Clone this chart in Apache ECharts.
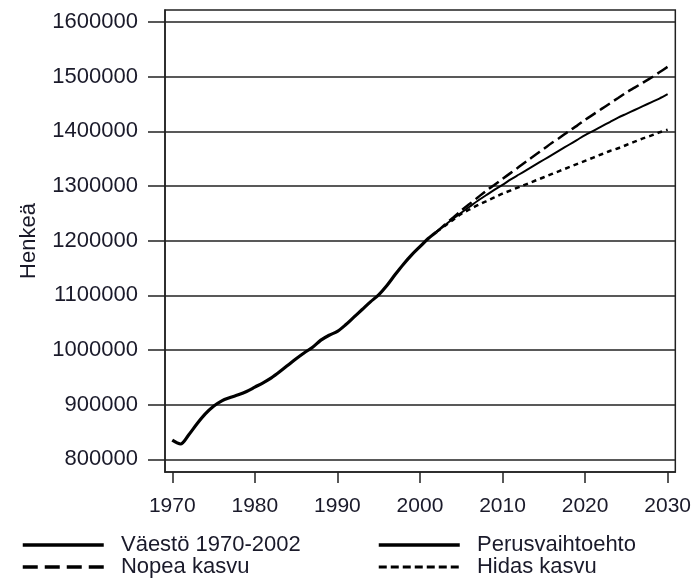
<!DOCTYPE html>
<html><head><meta charset="utf-8">
<script src="https://cdn.jsdelivr.net/npm/echarts@6/dist/echarts.min.js"></script>
<style>html,body{margin:0;padding:0;background:#fff}#c{width:694px;height:580px}</style>
</head><body><div id="c"></div>
<script>
// Historical population 1970-2002
const histYears = [1970,1971,1972,1973,1974,1975,1976,1977,1978,1979,1980,1981,1982,1983,1984,1985,1986,1987,1988,1989,1990,1991,1992,1993,1994,1995,1996,1997,1998,1999,2000,2001,2002];
const histValues = [835000,828000,845000,865000,883000,897000,907000,913000,918000,924000,932000,940000,949000,960000,972000,984000,995000,1005000,1018000,1027000,1034000,1046000,1060000,1074000,1088000,1101000,1118000,1138000,1157000,1174000,1189000,1204000,1216000];

// Projections 2002-2030
const projYears = [2002,2003,2004,2005,2006,2007,2008,2009,2010,2011,2012,2013,2014,2015,2016,2017,2018,2019,2020,2021,2022,2023,2024,2025,2026,2027,2028,2029,2030];
const perusValues = [1216000,1228000,1240000,1251000,1262000,1273000,1283000,1293000,1302000,1312000,1321000,1330000,1339000,1348000,1357000,1366000,1375000,1384000,1393000,1401000,1409000,1417000,1425000,1432000,1439000,1446000,1453000,1460000,1468000];
const nopeaValues = [1216000,1229000,1242000,1255000,1267000,1279000,1291000,1302000,1313000,1324000,1335000,1346000,1357000,1368000,1379000,1389000,1400000,1410000,1421000,1431000,1441000,1451000,1461000,1471000,1480000,1489000,1498000,1508000,1518000];
const hidasValues = [1216000,1227000,1238000,1249000,1257000,1265000,1272000,1279000,1286000,1292000,1298000,1304000,1310000,1316000,1322000,1328000,1334000,1340000,1346000,1352000,1358000,1364000,1369000,1375000,1381000,1387000,1392000,1398000,1403000];

const seriesNames = ['Väestö 1970-2002','Perusvaihtoehto','Nopea kasvu','Hidas kasvu'];
const xTicks = [1970,1980,1990,2000,2010,2020,2030];
const yTicks = [800000,900000,1000000,1100000,1200000,1300000,1400000,1500000,1600000];
const yAxisTitle = 'Henkeä';

function pairs(xs, ys){ return xs.map((x,i)=>[x, ys[i]]); }

const FONT = '"Liberation Sans", Arial, sans-serif';
const TXT = '#1a1a2a';
const chart = echarts.init(document.getElementById('c'), null, {renderer:'canvas'});
const legendText = {fontFamily: FONT, fontSize: 22, color: TXT, lineHeight: 21};
const legendCommon = {top: 534, orient: 'vertical', itemWidth: 81, itemHeight: 14, itemGap: 0, padding: 0,
  height: 46, formatter: n => '  ' + n, textStyle: legendText, selectedMode: false,
  itemStyle: {color: 'transparent', borderWidth: 0, opacity: 0}};
chart.setOption({
  animation: false,
  backgroundColor: '#fff',
  grid: {left: 165, top: 10, right: 17, bottom: 108, show: true, borderColor: '#222', borderWidth: 1.5, backgroundColor: 'transparent'},
  xAxis: {
    type: 'value', min: 1969.12, max: 2030.93,
    axisLine: {show: true, lineStyle: {color: '#222', width: 1.5}},
    axisTick: {show: true, length: 11, inside: false, customValues: xTicks, lineStyle: {color: '#222', width: 1.5}},
    axisLabel: {customValues: xTicks, formatter: v => String(v), fontFamily: FONT, fontSize: 21, color: TXT, margin: 24},
    splitLine: {show: false}
  },
  yAxis: {
    type: 'value', min: 776767, max: 1621953,
    name: yAxisTitle, nameLocation: 'middle', nameRotate: 90, nameGap: 125,
    nameTextStyle: {fontFamily: FONT, fontSize: 22, color: TXT},
    axisLine: {show: true, lineStyle: {color: '#222', width: 1.5}},
    axisTick: {show: true, length: 17, inside: false, customValues: yTicks, lineStyle: {color: '#222', width: 1.5}},
    axisLabel: {customValues: yTicks, formatter: v => String(v), fontFamily: FONT, fontSize: 22, color: TXT, margin: 27},
    splitLine: {show: true, lineStyle: {color: '#222', width: 1.5}}
  },
  legend: [
    Object.assign({left: 21, data: [
       {name: seriesNames[0], lineStyle: {width: 3.5, type: 'solid', color: '#000'}},
       {name: seriesNames[2], lineStyle: {width: 3.5, type: [15,7], color: '#000'}}
     ]}, legendCommon),
    Object.assign({left: 377, data: [
       {name: seriesNames[1], lineStyle: {width: 3.5, type: 'solid', color: '#000'}},
       {name: seriesNames[3], lineStyle: {width: 3, type: [8,4], color: '#000'}}
     ]}, legendCommon)
  ],
  series: [
    {name: seriesNames[0], type: 'line', data: pairs(histYears, histValues), showSymbol: false, symbol: 'none', smooth: 0.3,
     itemStyle: {color: '#000'}, lineStyle: {color: '#000', width: 3.2}, z: 5},
    {name: seriesNames[1], type: 'line', data: pairs(projYears, perusValues), showSymbol: false, symbol: 'none', smooth: 0.3,
     itemStyle: {color: '#000'}, lineStyle: {color: '#000', width: 2}},
    {name: seriesNames[2], type: 'line', data: pairs(projYears, nopeaValues), showSymbol: false, symbol: 'none', smooth: 0.3,
     itemStyle: {color: '#000'}, lineStyle: {color: '#000', width: 2.5, type: [12,5]}},
    {name: seriesNames[3], type: 'line', data: pairs(projYears, hidasValues), showSymbol: false, symbol: 'none', smooth: 0.3,
     itemStyle: {color: '#000'}, lineStyle: {color: '#000', width: 2.5, type: [5,4]}}
  ]
});
</script>
</body></html>
